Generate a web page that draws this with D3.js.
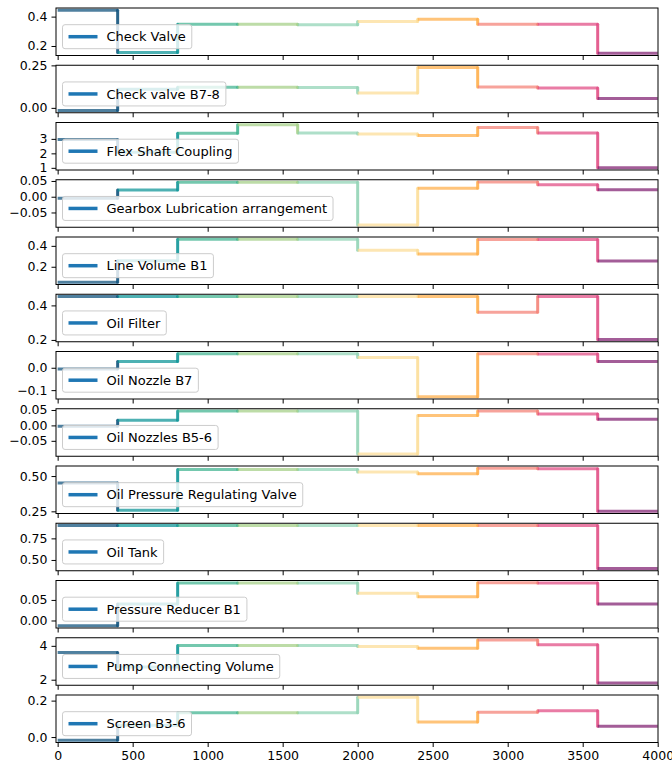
<!DOCTYPE html>
<html>
<head>
<meta charset="utf-8">
<script src="https://cdn.jsdelivr.net/npm/d3@7"></script>
<style>
  html, body { margin: 0; padding: 0; background: #fff; }
  svg { display: block; font-family: "DejaVu Sans", sans-serif; }
</style>
</head>
<body>
<svg id="chart" width="672" height="766"></svg>
<script>
// ---------- data ----------
const breakpoints = [0, 400, 800, 1200, 1600, 2000, 2400, 2800, 3200, 3600, 4000];
const segmentColors = ["#0b4f7a", "#0a9396", "#3fb38f", "#a3cf85", "#8fd3b4",
                       "#fcdd96", "#ffad47", "#f47f74", "#e04a82", "#7f1f70"];
const xTicks = [0, 500, 1000, 1500, 2000, 2500, 3000, 3500, 4000];

const names = [
  "Check Valve", "Check valve B7-8", "Flex Shaft Coupling", "Gearbox Lubrication arrangement",
  "Line Volume B1", "Oil Filter", "Oil Nozzle B7", "Oil Nozzles B5-6",
  "Oil Pressure Regulating Valve", "Oil Tank", "Pressure Reducer B1",
  "Pump Connecting Volume", "Screen B3-6"
];

const checkValve      = [0.444, 0.155, 0.348, 0.348, 0.344, 0.366, 0.382, 0.348, 0.348, 0.150];
const checkValveB78   = [-0.016, 0.110, 0.121, 0.121, 0.120, 0.088, 0.238, 0.123, 0.117, 0.055];
const flexShaft       = [2.95, 2.08, 3.38, 3.98, 3.40, 3.33, 3.24, 3.79, 3.40, 1.00];
const gearboxLub      = [-0.005, 0.021, 0.046, 0.046, 0.046, -0.090, 0.027, 0.047, 0.038, 0.022];
const lineVolumeB1    = [0.051, 0.258, 0.464, 0.464, 0.464, 0.359, 0.321, 0.461, 0.461, 0.255];
const oilFilter       = [0.452, 0.452, 0.452, 0.452, 0.452, 0.452, 0.452, 0.361, 0.452, 0.202];
const oilNozzleB7     = [-0.006, 0.028, 0.063, 0.063, 0.063, 0.046, -0.130, 0.063, 0.061, 0.028];
const oilNozzlesB56   = [-0.003, 0.017, 0.047, 0.047, 0.047, -0.093, 0.032, 0.047, 0.037, 0.020];
const oilPressureReg  = [0.451, 0.257, 0.546, 0.546, 0.546, 0.528, 0.517, 0.556, 0.551, 0.250];
const oilTank         = [0.90, 0.90, 0.90, 0.90, 0.90, 0.90, 0.90, 0.90, 0.90, 0.40];
const pressureRedB1   = [-0.013, 0.040, 0.091, 0.091, 0.091, 0.066, 0.058, 0.092, 0.091, 0.040];
const pumpConnVolume  = [3.61, 2.75, 4.02, 4.02, 4.02, 3.96, 3.86, 4.35, 4.06, 1.80];
const screenB36       = [-0.018, 0.065, 0.133, 0.133, 0.133, 0.219, 0.083, 0.136, 0.144, 0.059];

const seriesValues = [checkValve, checkValveB78, flexShaft, gearboxLub, lineVolumeB1, oilFilter,
  oilNozzleB7, oilNozzlesB56, oilPressureReg, oilTank, pressureRedB1, pumpConnVolume, screenB36];

const yTicks = [
  [0.2, 0.4], [0.00, 0.25], [1, 2, 3], [-0.05, 0.00, 0.05], [0.2, 0.4], [0.2, 0.4],
  [-0.1, 0.0], [-0.05, 0.00, 0.05], [0.25, 0.50], [0.50, 0.75], [0.00, 0.05], [2, 4], [0.0, 0.2]
];
const yTickDecimals = [1, 2, 0, 2, 1, 1, 1, 2, 2, 2, 2, 0, 1];

// ---------- layout ----------
const svg = d3.select("#chart");
const left = 56, right = 658;
const panelTop0 = 8, panelStep = 57.25, panelH = 47.5;
const tickFont = 12.5, legendFont = 13;

const x = d3.scaleLinear().domain([-11, 4002]).range([left, right]);

function fmt(v, d) {
  const s = v.toFixed(d);
  return s.replace("-", "\u2212");
}

names.forEach((name, i) => {
  const vals = seriesValues[i];
  const top = panelTop0 + i * panelStep;
  const bottom = top + panelH;
  const mn = d3.min(vals), mx = d3.max(vals);
  const pad = (mx - mn) * 0.05;
  const y = d3.scaleLinear().domain([mn - pad, mx + pad]).range([bottom, top]);

  const g = svg.append("g");

  // clip
  const clipId = "clip" + i;
  g.append("clipPath").attr("id", clipId)
    .append("rect").attr("x", left).attr("y", top).attr("width", right - left).attr("height", panelH);

  const lines = g.append("g").attr("clip-path", `url(#${clipId})`);
  vals.forEach((v, k) => {
    const x0 = breakpoints[k], x1 = breakpoints[k + 1];
    const p = d3.path();
    p.moveTo(x(x0), y(v));
    p.lineTo(x(x1), y(v));
    lines.append("path").attr("d", p.toString())
      .attr("fill", "none").attr("stroke", segmentColors[k])
      .attr("stroke-width", 3).attr("stroke-opacity", 0.72)
      .attr("stroke-linecap", "butt");
    if (k < vals.length - 1) {
      const q = d3.path();
      q.moveTo(x(x1), y(v));
      q.lineTo(x(x1), y(vals[k + 1]));
      lines.append("path").attr("d", q.toString())
        .attr("fill", "none").attr("stroke", segmentColors[k])
        .attr("stroke-width", 3).attr("stroke-opacity", 0.88)
        .attr("stroke-linecap", "round");
    }
  });

  // y axis
  const yAxis = d3.axisLeft(y).tickValues(yTicks[i])
    .tickFormat(d => fmt(d, yTickDecimals[i])).tickSize(4.5).tickPadding(4);
  const ya = g.append("g").attr("transform", `translate(${left},0)`).call(yAxis);
  ya.select(".domain").remove();
  ya.selectAll("text").attr("font-size", tickFont).attr("font-family", "DejaVu Sans").attr("fill", "#000");
  ya.selectAll("line").attr("stroke", "#000").attr("stroke-width", 1);

  // x axis
  const isLast = i === names.length - 1;
  const xAxis = d3.axisBottom(x).tickValues(xTicks).tickSize(4.5).tickPadding(4)
    .tickFormat(isLast ? d3.format("d") : () => "");
  const xa = g.append("g").attr("transform", `translate(0,${bottom})`).call(xAxis);
  xa.select(".domain").remove();
  xa.selectAll("text").attr("font-size", tickFont).attr("font-family", "DejaVu Sans").attr("fill", "#000");
  xa.selectAll("line").attr("stroke", "#000").attr("stroke-width", 1);

  // frame
  g.append("rect").attr("x", left).attr("y", top).attr("width", right - left).attr("height", panelH)
    .attr("fill", "none").attr("stroke", "#000").attr("stroke-width", 1);

  // legend
  const lgH = 24, lgX = left + 6.5, lgY = bottom - 6.8 - lgH;
  const lg = g.append("g");
  const frame = lg.append("rect").attr("x", lgX).attr("y", lgY).attr("height", lgH)
    .attr("rx", 2.5).attr("ry", 2.5)
    .attr("fill", "#fff").attr("fill-opacity", 0.8)
    .attr("stroke", "#cccccc").attr("stroke-width", 1);
  lg.append("line").attr("x1", lgX + 6).attr("x2", lgX + 35)
    .attr("y1", lgY + lgH / 2).attr("y2", lgY + lgH / 2)
    .attr("stroke", "#1f77b4").attr("stroke-width", 3.5);
  const t = lg.append("text").attr("x", lgX + 44).attr("y", lgY + lgH / 2)
    .attr("dy", "0.36em").attr("font-size", legendFont).attr("fill", "#000").text(name);
  const tw = t.node().getComputedTextLength();
  frame.attr("width", 44 + tw + 6);
});
</script>
</body>
</html>
